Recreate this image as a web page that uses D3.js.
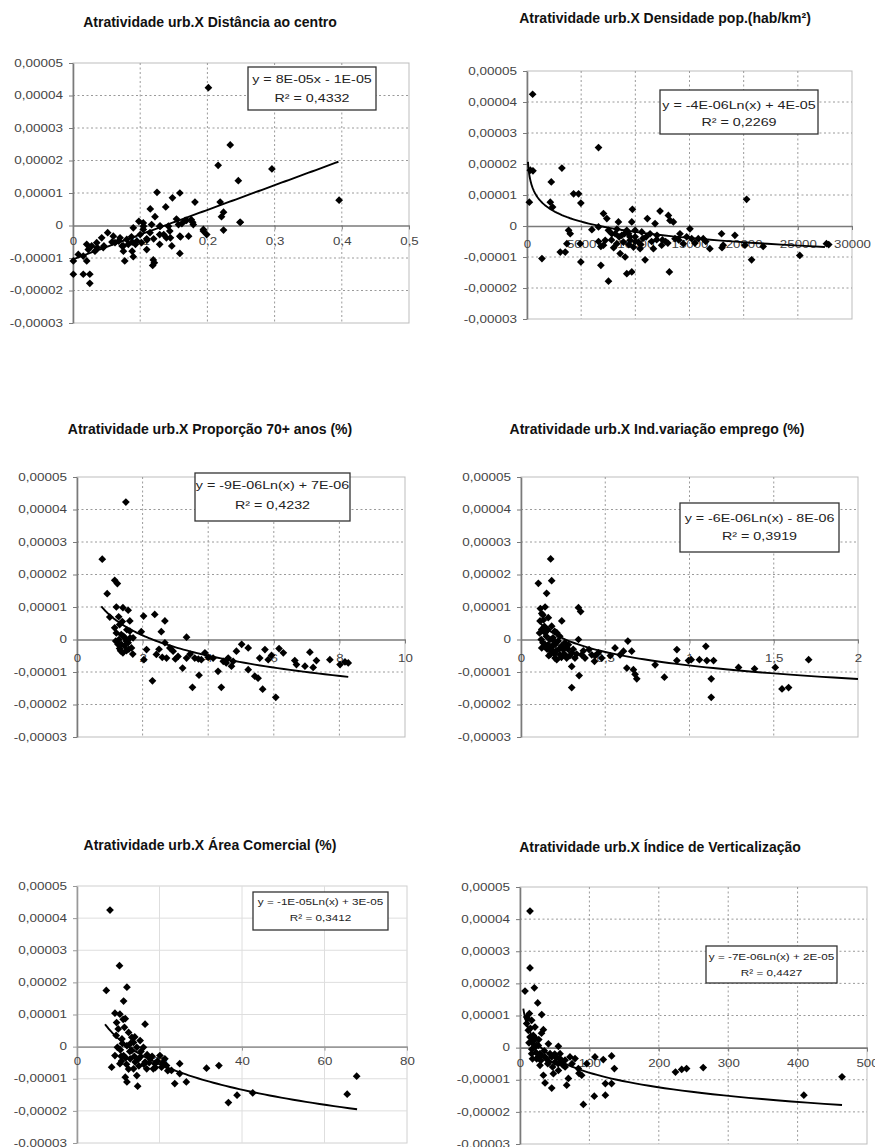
<!DOCTYPE html>
<html>
<head>
<meta charset="utf-8">
<script src="https://cdn.jsdelivr.net/npm/d3@7"></script>
<style>
  body { margin: 0; background: #fff; }
  svg { display: block; font-family: "Liberation Sans", Arial, sans-serif; }
</style>
</head>
<body>
<div id="chart"></div>
<script>
// y values are in units of 1e-5 (0,00001)
var yTicks = [5, 4, 3, 2, 1, 0, -1, -2, -3];
var yTickLabels = ['0,00005', '0,00004', '0,00003', '0,00002', '0,00001', '0',
                   '-0,00001', '-0,00002', '-0,00003'];

var titles = [
    'Atratividade urb.X Distância ao centro',
    'Atratividade urb.X Densidade pop.(hab/km²)',
    'Atratividade urb.X Proporção 70+ anos (%)',
    'Atratividade urb.X Ind.variação emprego (%)',
    'Atratividade urb.X Área Comercial (%)',
    'Atratividade urb.X Índice de Verticalização'
];

var equations = [
    'y = 8E-05x - 1E-05',
    'y = -4E-06Ln(x) + 4E-05',
    'y = -9E-06Ln(x) + 7E-06',
    'y = -6E-06Ln(x) - 8E-06',
    'y = -1E-05Ln(x) + 3E-05',
    'y = -7E-06Ln(x) + 2E-05'
];
var rSquared = ['R² = 0,4332', 'R² = 0,2269', 'R² = 0,4232', 'R² = 0,3919', 'R² = 0,3412', 'R² = 0,4427'];

// x ticks per chart
var distTicks = [0, 0.1, 0.2, 0.3, 0.4, 0.5];
var distTickLabels = ['0', '0,1', '0,2', '0,3', '0,4', '0,5'];
var densTicks = [0, 5000, 10000, 15000, 20000, 25000, 30000];
var densTickLabels = ['0', '5000', '10000', '15000', '20000', '25000', '30000'];
var idosTicks = [0, 2, 4, 6, 8, 10];
var idosTickLabels = ['0', '2', '4', '6', '8', '10'];
var empTicks = [0, 0.5, 1, 1.5, 2];
var empTickLabels = ['0', '0,5', '1', '1,5', '2'];
var comTicks = [0, 20, 40, 60, 80];
var comTickLabels = ['0', '20', '40', '60', '80'];
var vertTicks = [0, 100, 200, 300, 400, 500];
var vertTickLabels = ['0', '100', '200', '300', '400', '500'];

// trend lines as shown (type, a, b, x range), y in 1e-5
var distTrend = { type: 'lin', a: 7.6, b: -1.04, x0: 0, x1: 0.395 };
var densTrend = { type: 'log', a: -0.48, b: 4.23, x0: 90, x1: 27500 };
var idosTrend = { type: 'log', a: -0.9, b: 0.75, x0: 0.74, x1: 8.27 };
var empTrend = { type: 'log', a: -0.6, b: -0.8, x0: 0.1, x1: 2.0 };
var comTrend = { type: 'log', a: -1.15, b: 2.9, x0: 6.8, x1: 67.9 };
var vertTrend = { type: 'log', a: -0.656, b: 2.24, x0: 4.8, x1: 464 };

// scatter points [x, y]
var distancia = [[0.2015,4.24],[0.234,2.48],[0.216,1.85],[0.296,1.74],[0.246,1.38],[0.396,0.78],
    [0.125,1.02],[0.159,1.0],[0.148,0.85],[0.1815,0.72],[0.219,0.72],[0.115,0.51],[0.138,0.57],[0.224,0.41],
    [0.221,0.27],[0.098,0.13],[0.122,0.27],[0.154,0.2],[0.169,0.16],[0.178,0.1],[0.157,0.03],[0.249,0.1],
    [0.142,-0.02],[0.0897,-0.07],[0.1046,-0.12],[0.1146,-0.22],[0.129,-0.28],[0.194,-0.17],[0.199,-0.28],
    [0.224,-0.14],[0.159,-0.33],[0.172,-0.33],[0.139,-0.38],[0.0516,-0.22],[0.06,-0.33],[0.07,-0.38],
    [0.08,-0.43],[0.087,-0.35],[0.095,-0.48],[0.102,-0.53],[0.1097,-0.41],[0.0823,-0.58],[0.0749,-0.63],
    [0.0625,-0.53],[0.0427,-0.38],[0.0353,-0.53],[0.0278,-0.63],[0.0204,-0.58],[0.045,-0.68],[0.0327,-0.79],
    [0.0228,-0.74],[0.0153,-0.94],[0.0079,-0.89],[0.0204,-1.09],[0.0005,-1.09],[0.0005,-1.5],[0.0153,-1.5],
    [0.025,-1.5],[0.025,-1.78],[0.077,-1.09],[0.0897,-0.96],[0.1195,-1.06],[0.1186,-1.23],[0.121,-1.15],
    [0.159,-0.86],[0.147,-0.63],[0.129,-0.58],[0.1097,-0.74],[0.144,-0.17],[0.129,-0.02],[0.117,0.03],
    [0.1046,0.08],[0.2485,0.1],[0.194,-0.12],[0.167,0.16],[0.176,0.18],[0.162,0.06],[0.179,0.03],
    [0.105,-0.02],[0.13,-0.02],[0.135,-0.28],[0.16,-0.35],[0.145,-0.38],[0.12,-0.41],[0.11,-0.45],
    [0.088,-0.51],[0.073,-0.63],[0.058,-0.51],[0.046,-0.63],[0.036,-0.68],[0.075,-0.79],[0.088,-0.79],
    [0.093,-0.58],[0.068,-0.48],[0.1,-0.28]];

var densidade = [[520,4.25],[307,1.80],[550,1.78],[215,0.77],[1380,-1.05],[2240,1.42],[2150,0.77],
    [2360,0.61],[3220,1.87],[4300,1.04],[4760,1.04],[4970,0.74],[6600,2.53],[3070,-0.84],[3530,-0.84],
    [3840,-0.14],[3990,-0.25],[3680,-0.57],[4910,-0.57],[4970,-1.16],[5990,-0.12],[6600,-0.03],[6820,-0.66],
    [7060,-0.62],[6820,-1.27],[7060,0.40],[7370,0.24],[7520,-1.78],[7830,-0.25],[8290,-0.57],[8440,0.13],
    [8600,-0.89],[9060,-1.00],[9210,-1.54],[9670,-1.48],[9730,0.54],[9670,0.13],[9370,-0.25],[9520,-0.46],
    [9830,-0.68],[9980,-0.35],[10290,-0.52],[10590,-0.19],[10900,-1.09],[11110,0.24],[11360,-0.25],
    [11670,-0.73],[11820,0.08],[11970,-0.44],[12280,0.48],[12430,-0.62],[13050,0.34],[13140,-1.48],
    [13200,0.18],[13510,0.13],[13660,-0.41],[14120,-0.25],[14430,-0.57],[14740,-0.35],[15040,-0.09],
    [15200,-0.41],[15810,-0.41],[16270,-0.41],[16880,-0.73],[17960,-0.25],[18110,-0.62],[19190,-0.30],
    [20270,0.86],[20730,-1.09],[21800,-0.66],[25180,-0.95],[27640,-0.57],[27850,-0.60],[8750,-0.30],
    [8900,-0.52],[9210,-0.14],[9980,-0.14],[10440,-0.73],[8140,-0.25],[7520,-0.14],[7220,-0.46],
    [20120,-0.62],[18000,-0.7],[12800,-0.5],[10700,-0.4],[9400,-0.6],[8000,-0.7],[6600,-0.5],
    [7800,-0.45],[8500,-0.35],[9000,-0.25],[9500,-0.35],[10000,-0.5],[10500,-0.6],[11000,-0.35],
    [11500,-0.5],[12000,-0.3],[12500,-0.45],[13000,-0.55],[14000,-0.45],[15500,-0.55],[16500,-0.5],
    [8300,-0.1]];

var idosos = [[1.49,4.23],[0.77,2.47],[0.92,1.41],[1.15,1.82],[1.23,1.72],[1.20,1.0],[1.40,0.98],
    [1.56,0.90],[1.0,0.69],[1.61,0.57],[1.30,0.46],[2.03,0.72],[2.37,0.77],[2.68,0.57],[2.57,0.24],
    [3.34,0.07],[1.96,0.24],[1.35,0.15],[1.46,0.05],[1.25,-0.15],[1.56,-0.10],[1.71,0.05],[1.30,-0.28],
    [1.51,-0.34],[1.66,-0.26],[2.12,-0.31],[2.04,-0.62],[2.42,-0.46],[2.30,-1.27],[2.68,-0.10],[2.73,-0.57],
    [2.83,-0.26],[2.93,-0.36],[3.08,-0.52],[3.22,-0.88],[3.34,-0.57],[3.52,-1.47],[3.59,-0.57],[3.72,-1.10],
    [3.79,-0.62],[3.90,-0.41],[4.15,-0.57],[4.30,-0.98],[4.40,-1.47],[4.46,-0.67],[4.61,-0.57],[4.71,-0.82],
    [4.76,-0.67],[4.86,-0.36],[5.02,-0.15],[5.22,-0.26],[5.22,-0.93],[5.42,-1.13],[5.52,-1.19],[5.57,-0.57],
    [5.66,-1.53],[5.73,-0.31],[5.83,-0.62],[5.93,-0.49],[6.06,-1.78],[6.16,-0.28],[6.29,-0.41],[6.64,-0.65],
    [6.69,-0.77],[6.95,-0.82],[7.10,-0.39],[7.20,-0.86],[7.30,-0.65],[7.71,-0.62],[8.02,-0.77],[8.17,-0.69],
    [8.27,-0.72],[1.40,-0.41],[1.61,0.26],[1.15,0.36],[1.28,0.0],[1.45,-0.2],[1.7,-0.45],[2.5,-0.3],
    [2.6,-0.55],[3.0,-0.6],[3.45,-0.45],[3.7,-0.6],[4.0,-0.55],[4.55,-0.72],[1.2,0.2],[1.52,0.3],
    [1.18,-0.05],[1.33,-0.35],[1.42,0.1],[1.5,-0.05],[1.58,-0.3],[1.38,0.55],[1.27,0.7],[1.62,0.05],
    [1.35,-0.15]];

var emprego = [[0.103,1.73],[0.176,2.48],[0.182,1.81],[0.152,1.42],[0.143,1.0],[0.123,0.80],[0.113,0.57],
    [0.133,0.6],[0.162,0.67],[0.242,0.57],[0.182,0.41],[0.123,0.31],[0.143,0.21],[0.212,0.21],[0.23,0.1],
    [0.123,-0.26],[0.162,-0.16],[0.192,-0.36],[0.202,-0.57],[0.232,-0.47],[0.251,-0.31],[0.271,-0.57],
    [0.281,-0.16],[0.301,-0.41],[0.301,-0.83],[0.301,-1.48],[0.341,0.98],[0.354,0.86],[0.341,0.0],
    [0.345,-1.11],[0.360,-0.47],[0.380,-0.57],[0.404,-0.31],[0.420,-0.47],[0.436,-0.67],[0.459,-0.41],
    [0.479,-0.57],[0.558,-0.26],[0.588,-0.47],[0.608,-0.36],[0.634,-0.05],[0.628,-0.88],[0.657,-0.36],
    [0.667,-0.93],[0.677,-1.07],[0.687,-1.21],[0.796,-0.78],[0.851,-1.16],[0.925,-0.31],[0.925,-0.65],
    [0.994,-0.65],[1.010,-0.62],[1.059,-0.62],[1.097,-0.21],[1.103,-0.65],[1.129,-1.21],[1.129,-1.78],
    [1.143,-0.65],[1.291,-0.86],[1.386,-0.90],[1.509,-0.86],[1.549,-1.52],[1.588,-1.48],[1.707,-0.62],
    [0.143,-0.16],[0.172,-0.31],[0.202,-0.16],[0.261,-0.47],[0.32,-0.57],[0.212,-0.62],[0.172,0.0],
    [0.15,0.1],[0.19,0.05],[0.22,-0.05],[0.26,-0.1],[0.28,-0.3],[0.2,-0.45],[0.165,-0.5],[0.24,-0.2],
    [0.14,0.4],[0.37,-0.35],[0.44,-0.5],[0.53,-0.5],
    [0.11,0.2],[0.12,0.0],[0.13,-0.1],[0.155,-0.3],[0.175,-0.45],[0.185,-0.2],[0.195,-0.05],[0.21,-0.35],
    [0.225,-0.3],[0.24,-0.55],[0.255,-0.45],[0.27,-0.25],[0.29,-0.5],[0.31,-0.3],[0.33,-0.45],[0.16,0.3],
    [0.2,0.25],[0.115,0.95],[0.13,0.75]];

var comercial = [[8.0,4.25],[10.3,2.52],[7.1,1.75],[12.1,1.85],[11.3,1.42],[9.2,1.04],[10.4,1.01],
    [11.7,0.87],[16.5,0.70],[9.6,0.75],[10.0,0.55],[12.5,0.44],[13.3,0.29],[10.9,0.24],[13.7,0.13],
    [15.3,0.19],[9.8,-0.02],[12.1,0.03],[13.3,-0.12],[14.5,-0.02],[9.2,-0.28],[11.3,-0.28],[8.4,-0.64],
    [10.4,-0.53],[12.9,-0.38],[14.1,-0.48],[15.3,-0.33],[16.5,-0.48],[17.7,-0.38],[18.9,-0.53],[20.1,-0.28],
    [20.5,-0.64],[21.7,-0.59],[22.9,-0.74],[24.9,-0.53],[23.7,-1.15],[24.9,-0.84],[26.5,-1.10],[31.4,-0.67],
    [34.4,-0.59],[36.7,-1.74],[38.8,-1.51],[42.6,-1.44],[65.5,-1.48],[67.8,-0.92],[11.7,-0.95],[12.1,-1.10],
    [14.5,-0.90],[14.7,-1.23],[13.7,-0.69],[16.9,-0.69],[18.5,-0.69],[21.3,-0.38],[16.1,-0.02],[11.0,0.1],
    [12.8,-0.15],[14.0,0.3],[15.0,-0.6],[10.8,-0.45],[12.0,-0.55],[19.5,-0.45],[17.0,-0.25],[9.5,0.35],
    [11.5,0.6],
    [10.5,-0.1],[11.8,-0.35],[12.5,-0.7],[13.0,0.1],[13.9,-0.3],[14.8,-0.4],[15.5,-0.15],[16.2,-0.55],
    [17.5,-0.5],[18.2,-0.3],[19,-0.65],[20.8,-0.5],[22,-0.75],[11.2,0.85],[10.7,-0.3]];

var verticalizacao = [[14.4,4.25],[14.4,2.48],[7.2,1.76],[20.7,1.86],[25.5,1.39],[31.3,1.03],[13.5,1.06],
    [16.8,0.85],[9.6,0.95],[33.7,0.56],[21.6,0.64],[19.2,0.38],[14.4,0.33],[40.9,0.12],[55.3,0.04],
    [26.4,0.07],[16.8,-0.19],[28.8,-0.19],[36.1,-0.29],[28.8,-0.55],[45.7,-0.29],[50.5,-0.45],[57.7,-0.19],
    [33.7,-0.86],[36.1,-1.10],[45.7,-1.26],[48.1,-0.81],[55.3,-0.71],[62.5,-0.55],[67.3,-1.17],[69.7,-0.96],
    [79.3,-0.34],[84.1,-0.65],[88.9,-0.86],[91.3,-1.77],[96.2,-0.50],[108,-0.29],[107,-1.51],[120,-0.37],
    [123,-1.48],[123,-1.12],[132,-1.12],[132,-0.26],[136,-0.65],[224,-0.76],[233,-0.68],[240,-0.65],
    [264,-0.62],[409,-1.48],[464,-0.91],[43.3,-0.19],[52,-0.29],[64.9,-0.39],[72,-0.29],[9.6,0.75],
    [12,0.54],[21.6,0.02],[18,0.2],[24,-0.35],[30,-0.4],[40,-0.5],[47,-0.6],[60,-0.5],[11,0.9],[15,0.6],
    [22,0.3],[35,-0.1],[85,-0.8],
    [13,0.15],[17,-0.05],[20,0.1],[23,-0.15],[26,-0.3],[31,-0.25],[38,-0.35],[42,-0.45],[50,-0.2],
    [55,-0.5],[58,-0.35],[65,-0.6],[75,-0.5],[27,0.25],[31,0.45],[18,-0.35]];

// layout of the six panels
var panels = [
    { data: distancia, ticks: distTicks, labels: distTickLabels, trend: distTrend,
      left: 73, right: 409, top: 63, bottom: 323, cx: 210, titleY: 27, labelDy: 12,
      box: [248, 67, 128, 43], eqSize: 11, eqY: [83, 102] },
    { data: densidade, ticks: densTicks, labels: densTickLabels, trend: densTrend,
      left: 527, right: 852, top: 71, bottom: 319, cx: 665, titleY: 23, labelDy: 15,
      box: [660, 90, 158, 44], eqSize: 11, eqY: [109, 126] },
    { data: idosos, ticks: idosTicks, labels: idosTickLabels, trend: idosTrend,
      left: 77, right: 405, top: 477, bottom: 737, cx: 210, titleY: 434, labelDy: 15,
      box: [195, 473, 155, 48], eqSize: 11, eqY: [489, 509] },
    { data: emprego, ticks: empTicks, labels: empTickLabels, trend: empTrend,
      left: 521, right: 858, top: 477, bottom: 737, cx: 657, titleY: 434, labelDy: 15,
      box: [680, 503, 159, 49], eqSize: 11, eqY: [522, 540] },
    { data: comercial, ticks: comTicks, labels: comTickLabels, trend: comTrend,
      left: 77, right: 407, top: 886, bottom: 1143, cx: 210, titleY: 850, labelDy: 11, light: true,
      box: [253, 892, 135, 38], eqSize: 9, eqY: [905, 921] },
    { data: verticalizacao, ticks: vertTicks, labels: vertTickLabels, trend: vertTrend,
      left: 520, right: 867, top: 887, bottom: 1144, cx: 660, titleY: 852, labelDy: 12,
      box: [706, 946, 131, 37], eqSize: 9, eqY: [960, 976] }
];

var svg = d3.select('#chart').append('svg')
    .attr('width', 875)
    .attr('height', 1147);

function trendPoints(t) {
    var n = 80;
    return d3.range(n + 1).map(function(i) {
        var xv = t.type === 'log' ? t.x0 * Math.pow(t.x1 / t.x0, i / n) : t.x0 + (t.x1 - t.x0) * i / n;
        var yv = t.type === 'log' ? t.a * Math.log(xv) + t.b : t.a * xv + t.b;
        return [xv, yv];
    });
}

function drawPanel(p, k) {
    var x = d3.scaleLinear()
        .domain([p.ticks[0], p.ticks[p.ticks.length - 1]])
        .range([p.left, p.right]);
    var y = d3.scaleLinear()
        .domain([yTicks[yTicks.length - 1], yTicks[0]])
        .range([p.bottom, p.top]);

    var g = svg.append('g');
    var gridColor = p.light ? '#dedede' : '#9a9a9a';
    var axisColor = p.light ? '#999' : '#7a7a7a';

    g.append('text')
        .attr('x', p.cx)
        .attr('y', p.titleY)
        .attr('text-anchor', 'middle')
        .style('font-weight', 'bold')
        .style('font-size', '14px')
        .style('fill', '#111')
        .text(titles[k]);

    g.append('rect')
        .attr('x', p.left).attr('y', p.top)
        .attr('width', p.right - p.left).attr('height', p.bottom - p.top)
        .attr('fill', 'none')
        .attr('stroke', p.light ? '#d0d0d0' : '#bdbdbd');

    // grid
    g.selectAll('.hgrid')
        .data(yTicks.filter(function(d) { return d !== 0 && d !== yTicks[0] && d !== yTicks[yTicks.length - 1]; }))
        .enter().append('line')
        .attr('x1', p.left).attr('x2', p.right)
        .attr('y1', function(d) { return y(d); })
        .attr('y2', function(d) { return y(d); })
        .attr('stroke', gridColor)
        .attr('stroke-dasharray', p.light ? null : '2,2.5');
    g.selectAll('.vgrid')
        .data(p.ticks.slice(1, -1))
        .enter().append('line')
        .attr('x1', function(d) { return x(d); })
        .attr('x2', function(d) { return x(d); })
        .attr('y1', p.top).attr('y2', p.bottom)
        .attr('stroke', gridColor)
        .attr('stroke-dasharray', p.light ? null : '2,2.5');

    // y axis
    var yAxis = d3.axisLeft(y)
        .tickValues(yTicks)
        .tickFormat(function(d, i) { return yTickLabels[i]; })
        .tickSize(4)
        .tickSizeOuter(0);
    var yg = g.append('g')
        .attr('transform', 'translate(' + p.left + ',0)')
        .call(yAxis);
    yg.attr('font-family', null).attr('font-size', null);
    yg.select('.domain').attr('stroke', axisColor).attr('stroke-width', 1.6);
    yg.selectAll('line').attr('stroke', axisColor);
    yg.selectAll('text')
        .attr('x', 0)
        .attr('transform', 'translate(-10,0) scale(1.35,1)')
        .style('font-size', '10px')
        .style('fill', '#444');

    // zero line with x labels
    var xAxis = d3.axisBottom(x)
        .tickValues(p.ticks)
        .tickFormat(function(d, i) { return p.labels[i]; })
        .tickSize(4)
        .tickSizeOuter(0);
    var xg = g.append('g')
        .attr('transform', 'translate(0,' + y(0) + ')')
        .call(xAxis);
    xg.attr('font-family', null).attr('font-size', null);
    xg.select('.domain').attr('stroke', axisColor).attr('stroke-width', 1.6);
    xg.selectAll('line').attr('stroke', axisColor);
    xg.selectAll('text')
        .attr('y', 0)
        .attr('transform', 'translate(0,' + p.labelDy + ') scale(1.33,1)')
        .style('font-size', '10px')
        .style('fill', '#444');

    // points
    var symbol = d3.symbol().type(d3.symbolSquare).size(30);
    g.selectAll('.pt')
        .data(p.data)
        .enter().append('path')
        .attr('d', symbol)
        .attr('transform', function(d) {
            return 'translate(' + x(d[0]) + ',' + y(d[1]) + ') rotate(45)';
        })
        .attr('fill', '#000');

    // trend line
    var line = d3.line()
        .x(function(d) { return x(d[0]); })
        .y(function(d) { return y(d[1]); });
    g.append('path')
        .datum(trendPoints(p.trend))
        .attr('d', line)
        .attr('fill', 'none')
        .attr('stroke', '#000')
        .attr('stroke-width', 1.9);

    // equation box
    g.append('rect')
        .attr('x', p.box[0]).attr('y', p.box[1])
        .attr('width', p.box[2]).attr('height', p.box[3])
        .attr('fill', '#fff')
        .attr('stroke', '#333')
        .attr('stroke-width', 1.3);
    [equations[k], rSquared[k]].forEach(function(s, i) {
        g.append('text')
            .attr('text-anchor', 'middle')
            .attr('transform', 'translate(' + (p.box[0] + p.box[2] / 2) + ',' + p.eqY[i] + ') scale(1.3,1)')
            .style('font-size', p.eqSize + 'px')
            .style('fill', '#222')
            .text(s);
    });
}

panels.forEach(drawPanel);
</script>
</body>
</html>
